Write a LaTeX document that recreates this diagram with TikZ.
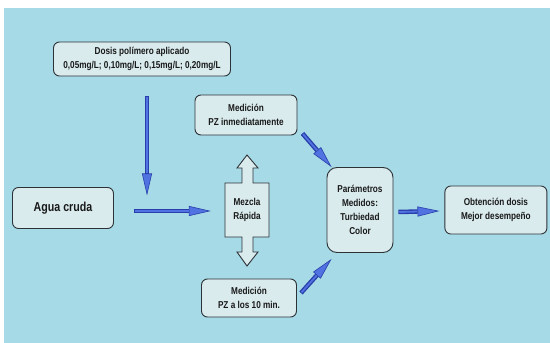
\documentclass[tikz,border=0pt]{standalone}
\usepackage{fontspec}
\setmainfont{Liberation Sans}[FakeStretch=0.82]
\usepackage{xcolor}
\usepackage{tikz}
\usetikzlibrary{calc, arrows.meta, positioning}
\definecolor{fondo}{RGB}{166,218,230}
\definecolor{relleno}{RGB}{218,235,238}
\definecolor{borde}{RGB}{45,50,55}
\definecolor{flecha}{RGB}{40,62,170}
\definecolor{flechaclaro}{RGB}{80,115,225}
\tikzset{
	caja/.style={draw=borde, fill=relleno, line width=0.9pt, rounded corners=6pt, align=center, text=black!90, inner sep=2pt, font=\bfseries\fontsize{10}{14}\selectfont},
	flujo/.style={draw=flecha, line width=4.5pt, -{Triangle[length=22pt, width=10pt, line width=0.6pt, fill=flechaclaro, color=flecha]}, postaction={draw=flechaclaro, line width=1.8pt, arrows=-, shorten >=22pt, shorten <=0.8pt}},
}

\begin{document}
\begin{tikzpicture}[x=1pt, y=-1pt]
		\useasboundingbox (0,0) rectangle (550,343);
		\fill[white] (0,0) rectangle (550,343);
		\fill[fondo] (4,8) rectangle (550,343);
		\node[caja, minimum width=177pt, minimum height=34pt] (dosis) at (142,59) {Dosis polímero aplicado\\0,05mg/L; 0,10mg/L; 0,15mg/L; 0,20mg/L};
		\node[caja, minimum width=101pt, minimum height=41pt, font=\bfseries\fontsize{13}{15}\selectfont] (agua) at (63,208) {Agua cruda};
		\node[caja, minimum width=102pt, minimum height=40pt] (inmed) at (246,115) {Medición\\PZ inmediatamente};
		\node[caja, minimum width=95pt, minimum height=38pt] (diez) at (249,298) {Medición\\PZ a los 10 min.};
		\node[caja, minimum width=66pt, minimum height=85pt, rounded corners=10pt] (param) at (360,210) {Parámetros\\Medidos:\\Turbiedad\\Color};
		\node[caja, right=51pt of param, minimum width=102pt, minimum height=48pt] (obt) {Obtención dosis\\Mejor desempeño};
		\path[draw=borde, fill=relleno, line width=0.9pt] (247,155) -- (258,168) -- (253,168) -- (253,183) -- (269,183) -- (269,237) -- (253,237) -- (253,252) -- (258,252) -- (247,266) -- (237,252) -- (242,252) -- (242,237) -- (225,237) -- (225,183) -- (242,183) -- (242,168) -- (237,168) -- cycle;
		\node[minimum width=44pt, minimum height=54pt, align=center, text=black!90, font=\bfseries\fontsize{10}{14}\selectfont] (mezcla) at (247,210) {Mezcla\\Rápida};
		\coordinate (bajada) at ($(dosis.south)+(5,20)$);
		\coordinate (caida) at ($(dosis.south)+(5,119)$);
		\path[flujo] (bajada) -- (caida);
		\path[flujo] ($(agua.east)+(20,3)$) -- ($(mezcla.west)+(-14,1)$);
		\path[flujo] ($(inmed.south east)+(5,-2)$) -- ($(param.north west)+(5,0)$);
		\path[flujo] ($(diez.east)+(4,-5)$) -- ($(param.south west)+(5,6)$);
		\path[flujo] ($(param.east)+(5,2)$) -- ($(obt.west)+(-5,1)$);
	\end{tikzpicture}
\end{document}
